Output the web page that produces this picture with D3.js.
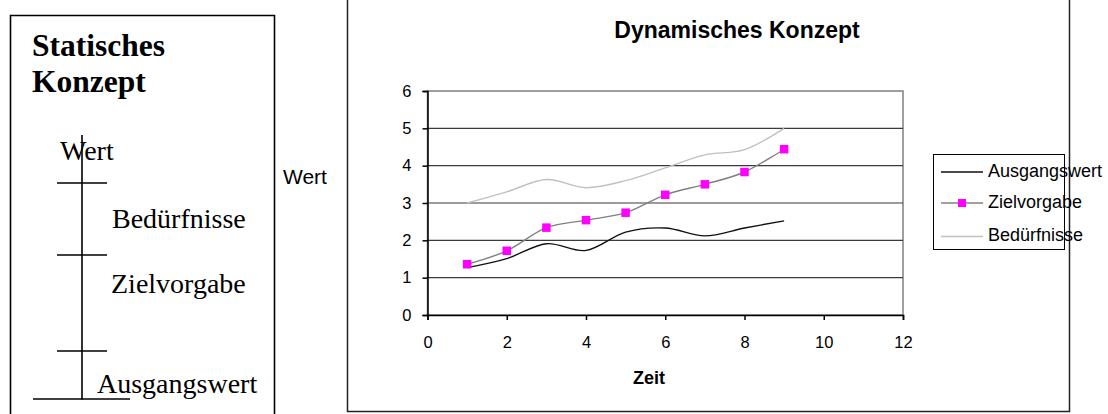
<!DOCTYPE html>
<html>
<head>
<meta charset="utf-8">
<script src="https://cdn.jsdelivr.net/npm/d3@7"></script>
<style>
  body { margin: 0; background: #fff; }
  svg { display: block; }
</style>
</head>
<body>
<div id="chart"></div>
<script>
// data
var zeit = [1, 2, 3, 4, 5, 6, 7, 8, 9];
var ausgangswert = [1.27, 1.51, 1.91, 1.73, 2.22, 2.33, 2.12, 2.33, 2.52];
var zielvorgabe = [1.36, 1.72, 2.34, 2.54, 2.74, 3.22, 3.5, 3.83, 4.44];
var beduerfnisse = [3.0, 3.3, 3.63, 3.41, 3.6, 3.94, 4.29, 4.43, 5.0];
var xTicks = [0, 2, 4, 6, 8, 10, 12];
var yTicks = [0, 1, 2, 3, 4, 5, 6];
var seriesNames = ["Ausgangswert", "Zielvorgabe", "Bedürfnisse"];
// static concept labels, top to bottom
var staticLabels = ["Wert", "Bedürfnisse", "Zielvorgabe", "Ausgangswert"];

var W = 1108, H = 414;
var sans = "'Liberation Sans', Arial, sans-serif";
var serif = "'Liberation Serif', 'Times New Roman', serif";

var svg = d3.select("#chart").append("svg")
    .attr("width", W).attr("height", H);

// ---------- left panel: Statisches Konzept ----------
var left = svg.append("g");
left.append("path")
    .attr("d", "M10.5,420 V15.5 H274.5 V420")
    .attr("fill", "none").attr("stroke", "#000").attr("stroke-width", 1.6);

left.append("text").attr("x", 32).attr("y", 56)
    .attr("font-family", serif).attr("font-weight", "bold").attr("font-size", 31.5)
    .text("Statisches");
left.append("text").attr("x", 32).attr("y", 92)
    .attr("font-family", serif).attr("font-weight", "bold").attr("font-size", 31.5)
    .text("Konzept");

left.append("line").attr("x1", 82).attr("x2", 82).attr("y1", 135).attr("y2", 399.5)
    .attr("stroke", "#000").attr("stroke-width", 1.6);
[183, 255, 351].forEach(function(yy) {
    left.append("line").attr("x1", 57).attr("x2", 107).attr("y1", yy).attr("y2", yy)
        .attr("stroke", "#000").attr("stroke-width", 1.6);
});
left.append("line").attr("x1", 33).attr("x2", 130).attr("y1", 399).attr("y2", 399)
    .attr("stroke", "#000").attr("stroke-width", 1.6);

var labelPos = [[60, 160], [112, 228], [111, 293], [97, 393]];
left.selectAll("text.lbl").data(staticLabels).enter().append("text")
    .attr("class", "lbl")
    .attr("x", function(d, i) { return labelPos[i][0]; })
    .attr("y", function(d, i) { return labelPos[i][1]; })
    .attr("font-family", serif).attr("font-size", 28)
    .text(function(d) { return d; });

// ---------- right panel: Dynamisches Konzept ----------
svg.append("rect")
    .attr("x", 347.5).attr("y", -10).attr("width", 722).attr("height", 421.5)
    .attr("fill", "none").attr("stroke", "#222").attr("stroke-width", 1.5);

svg.append("text").attr("x", 737).attr("y", 38)
    .attr("text-anchor", "middle")
    .attr("font-family", sans).attr("font-weight", "bold").attr("font-size", 23)
    .text("Dynamisches Konzept");

svg.append("text").attr("x", 283).attr("y", 184)
    .attr("font-family", sans).attr("font-size", 21)
    .text("Wert");

var x = d3.scaleLinear().domain([0, 12]).range([427.5, 903]);
var y = d3.scaleLinear().domain([0, 6]).range([315, 91]);

var plot = svg.append("g");

// plot area border
plot.append("rect")
    .attr("x", x(0)).attr("y", y(6))
    .attr("width", x(12) - x(0)).attr("height", y(0) - y(6))
    .attr("fill", "none").attr("stroke", "#808080").attr("stroke-width", 1.5);

// gridlines
plot.selectAll("line.grid").data(yTicks.filter(function(d) { return d > 0 && d < 6; }))
    .enter().append("line")
    .attr("class", "grid")
    .attr("x1", x(0)).attr("x2", x(12))
    .attr("y1", function(d) { return y(d); })
    .attr("y2", function(d) { return y(d); })
    .attr("stroke", "#3a3a3a").attr("stroke-width", 1.2);

var xAxis = d3.axisBottom(x).tickValues(xTicks).tickFormat(d3.format("d"))
    .tickSize(5).tickPadding(16);
var yAxis = d3.axisLeft(y).tickValues(yTicks).tickFormat(d3.format("d"))
    .tickSize(5).tickPadding(11);

var gx = plot.append("g").attr("transform", "translate(0," + y(0) + ")").call(xAxis);
var gy = plot.append("g").attr("transform", "translate(" + x(0) + ",0)").call(yAxis);
[gx, gy].forEach(function(g) {
    g.select(".domain").attr("stroke", "#000").attr("stroke-width", 1.5);
    g.selectAll(".tick line").attr("stroke", "#000").attr("stroke-width", 1.5);
    g.selectAll(".tick text").attr("font-family", sans).attr("font-size", 16.5).attr("fill", "#000");
});

svg.append("text").attr("x", 649).attr("y", 384)
    .attr("text-anchor", "middle")
    .attr("font-family", sans).attr("font-weight", "bold").attr("font-size", 18)
    .text("Zeit");

// smoothed lines like the spreadsheet
var line = d3.line()
    .x(function(d) { return x(d[0]); })
    .y(function(d) { return y(d[1]); })
    .curve(d3.curveCardinal.tension(0));

var series = [
    { name: seriesNames[0], values: ausgangswert, color: "#111", width: 1.4 },
    { name: seriesNames[1], values: zielvorgabe, color: "#808080", width: 1.4 },
    { name: seriesNames[2], values: beduerfnisse, color: "#c0c0c0", width: 1.4 }
];

series.slice().reverse().forEach(function(s) {
    plot.append("path")
        .datum(zeit.map(function(t, i) { return [t, s.values[i]]; }))
        .attr("fill", "none")
        .attr("stroke", s.color)
        .attr("stroke-width", s.width)
        .attr("d", line);
});

// markers on Zielvorgabe
var ms = 8.5;
plot.selectAll("rect.mark").data(zielvorgabe).enter().append("rect")
    .attr("class", "mark")
    .attr("x", function(d, i) { return x(zeit[i]) - ms / 2; })
    .attr("y", function(d) { return y(d) - ms / 2; })
    .attr("width", ms).attr("height", ms)
    .attr("fill", "#ff00ff");

// ---------- legend ----------
var legend = svg.append("g");
legend.append("rect")
    .attr("x", 933.5).attr("y", 154.5).attr("width", 131).attr("height", 95)
    .attr("fill", "none").attr("stroke", "#000").attr("stroke-width", 1);

var legY = [172, 203, 236.5];
series.forEach(function(s, i) {
    legend.append("line")
        .attr("x1", 941).attr("x2", 983)
        .attr("y1", legY[i]).attr("y2", legY[i])
        .attr("stroke", s.color).attr("stroke-width", s.width);
    if (i === 1) {
        legend.append("rect")
            .attr("x", 962 - 4).attr("y", legY[i] - 4)
            .attr("width", 8).attr("height", 8)
            .attr("fill", "#ff00ff");
    }
    legend.append("text")
        .attr("x", 988).attr("y", legY[i] + 4.5)
        .attr("font-family", sans).attr("font-size", 18)
        .text(s.name);
});
</script>
</body>
</html>
